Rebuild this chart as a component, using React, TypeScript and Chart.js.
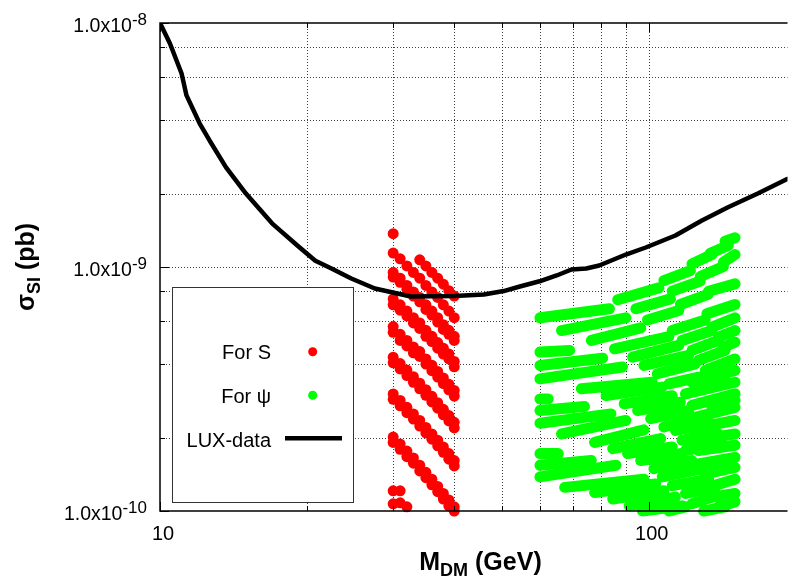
import React, { useEffect, useRef } from "react";
import { Chart, registerables } from "chart.js";
Chart.register(...registerables);

// ---------- axes ----------
const xMin = 10;
const xMax = 192.3;
const yMin = 1e-10;
const yMax = 1e-8;
const xGridValues = [20, 30, 40, 50, 60, 70, 80, 90, 100];
const yGridValues = [2e-10, 4e-10, 6e-10, 8e-10, 1e-9, 2e-9, 4e-9, 6e-9, 8e-9];
const xMajorTicks = [10, 100];
const xMajorLabels = ["10", "100"];
const yMajorTicks = [1e-10, 1e-9, 1e-8];
const yMajorMantissa = ["1.0x10", "1.0x10", "1.0x10"];
const yMajorExponent = ["-10", "-9", "-8"];
const xMinorTicks = [20, 30, 40, 50, 60, 70, 80, 90];
const yMinorTicks = [2e-10, 4e-10, 6e-10, 8e-10, 2e-9, 4e-9, 6e-9, 8e-9];
const legendLabels = ["For S", "For \u03C8", "LUX-data"];

// ---------- LUX limit ----------
const luxMass = [10, 10.48, 11.07, 11.33, 12.05, 12.63, 13.65, 14.99, 16.95, 19.23, 20.79, 22.43, 24.63, 27.52, 32.6, 40.0, 46.0, 50.5, 54.5, 59.8, 64.8, 69.5, 74.5, 79.2, 89.8, 98.6, 113.4, 128.5, 145.3, 167.2, 191.1, 200];
const luxSigma = [1.0e-8, 8.24e-9, 6.21e-9, 5.05e-9, 3.88e-9, 3.3e-9, 2.56e-9, 2.0e-9, 1.51e-9, 1.21e-9, 1.06e-9, 9.86e-10, 8.97e-10, 8.16e-10, 7.57e-10, 7.6e-10, 7.71e-10, 7.97e-10, 8.32e-10, 8.74e-10, 9.23e-10, 9.77e-10, 9.86e-10, 1.014e-9, 1.125e-9, 1.202e-9, 1.346e-9, 1.551e-9, 1.758e-9, 2.0e-9, 2.284e-9, 2.36e-9];

// ---------- scalar S (sigma in units of 1e-10 pb) ----------
const sigmaUnit = 1e-10;
const sMass = [30, 31, 32, 33, 34, 35, 36, 37, 38, 39, 40];
const sMassTail = [34, 35, 36, 37, 38, 39, 40];
const sStripeA = [11.4, 10.8, 10.1, 9.5, 9.0, 8.4, 7.9, 7.5, 7.0, 6.6, 6.2];
const sStripeA2 = [10.7, 10.1, 9.5, 9.0, 8.5, 8.0, 7.6];
const sStripeB = [9.5, 9.0, 8.4, 7.9, 7.5, 7.0, 6.6, 6.2, 5.8, 5.5, 5.2];
const sStripeB2 = [9.1, 8.65, 8.1, 7.6, 7.2, 6.7, 6.35, 5.95, 5.55, 5.3, 5.0];
const sStripeC = [7.4, 7.0, 6.6, 6.2, 5.9, 5.5, 5.2, 4.9, 4.65, 4.4, 4.1];
const sStripeC2 = [7.0, 6.65, 6.3, 5.9, 5.6, 5.2, 4.95, 4.65, 4.4, 4.2, 3.9];
const sStripeD = [5.7, 5.3, 5.0, 4.7, 4.5, 4.2, 3.96, 3.73, 3.51, 3.31, 3.12];
const sStripeD2 = [5.4, 5.0, 4.75, 4.45, 4.3, 4.0, 3.76, 3.54, 3.33, 3.14, 2.96];
const sStripeE = [4.27, 4.02, 3.78, 3.55, 3.34, 3.14, 2.95, 2.78, 2.61, 2.46, 2.31];
const sStripeE2 = [4.05, 3.82, 3.59, 3.37, 3.17, 2.98, 2.8, 2.64, 2.48, 2.34, 2.19];
const sStripeF = [3.02, 2.84, 2.66, 2.5, 2.35, 2.2, 2.07, 1.95, 1.83, 1.72, 1.61];
const sStripeF2 = [2.87, 2.7, 2.53, 2.38, 2.23, 2.09, 1.97, 1.85, 1.74, 1.63, 1.53];
const sStripeG = [2.01, 1.88, 1.76, 1.65, 1.54, 1.44, 1.35, 1.26, 1.18, 1.11, 1.04];
const sStripeG2 = [1.91, 1.79, 1.67, 1.57, 1.46, 1.37, 1.28, 1.2, 1.12, 1.05, 1.0];
const sExtraMass = [30, 30, 31, 30, 31, 32];
const sExtraSigma = [13.7, 1.21, 1.21, 1.07, 1.08, 1.04];

// ---------- fermion psi streaks: [M start, sigma start, M end, sigma end] (sigma in 1e-10 pb) ----------
const psiStreaks: [number, number, number, number][] = [
  [59.9, 6.19, 83.1, 6.74], [86.4, 7.34, 104.9, 8.21], [107.4, 8.8, 121.7, 9.67], [122.6, 10.3, 134.7, 11.25],
  [133.6, 11.39, 145.5, 12.25], [143.3, 12.76, 150.2, 13.17], [66.3, 5.49, 89.8, 6.19], [94.1, 6.74, 110.8, 7.4],
  [111.7, 7.96, 127.5, 8.75], [127.5, 9.14, 142.2, 10.05], [142.2, 10.47, 150.2, 11.25], [76.3, 5.0, 96.3, 5.63],
  [99.4, 6.07, 115.2, 6.63], [116.1, 7.02, 132.2, 7.72], [132.6, 7.96, 150.2, 8.53], [85.1, 4.62, 110.0, 5.19],
  [111.7, 5.49, 130.5, 6.07], [131.5, 6.43, 150.2, 7.02], [92.7, 4.27, 115.2, 4.77], [117.0, 5.0, 134.7, 5.49],
  [134.7, 5.67, 150.2, 6.19], [97.8, 3.95, 120.7, 4.34], [122.6, 4.55, 138.9, 5.0], [138.9, 5.16, 150.2, 5.49],
  [104.1, 3.65, 124.6, 4.01], [126.5, 4.14, 143.3, 4.55], [142.2, 4.69, 150.2, 4.92], [130.5, 3.77, 150.2, 4.2],
  [59.9, 4.48, 68.9, 4.55], [59.9, 3.95, 80.5, 4.23], [59.9, 3.48, 88.4, 3.89], [72.8, 3.17, 101.7, 3.37],
  [81.8, 2.97, 106.6, 3.22], [89.1, 2.75, 111.7, 2.97], [94.9, 2.58, 116.1, 2.79], [100.9, 2.39, 120.7, 2.58],
  [122.6, 3.37, 150.2, 3.77], [118.9, 3.02, 150.2, 3.37], [122.6, 2.71, 150.2, 3.02], [124.6, 2.42, 150.2, 2.66],
  [59.9, 2.88, 62.3, 2.88], [59.9, 2.58, 73.9, 2.68], [59.9, 2.29, 83.7, 2.5], [66.3, 2.07, 89.8, 2.35],
  [77.5, 1.91, 97.8, 2.15], [84.4, 1.8, 105.8, 1.98], [90.5, 1.72, 111.7, 1.83], [96.3, 1.61, 117.0, 1.72],
  [102.5, 1.49, 122.6, 1.61], [122.6, 2.17, 150.2, 2.35], [124.6, 1.95, 150.2, 2.07], [126.5, 1.77, 150.2, 1.86],
  [59.9, 1.72, 65.3, 1.72], [59.9, 1.54, 76.3, 1.61], [59.9, 1.38, 85.7, 1.54], [67.3, 1.25, 97.8, 1.35],
  [77.5, 1.19, 103.3, 1.29], [84.4, 1.12, 107.4, 1.21], [91.2, 1.05, 113.4, 1.14], [97.1, 1.0, 117.0, 1.05],
  [106.6, 1.38, 128.5, 1.49], [111.7, 1.27, 132.6, 1.35], [126.5, 1.56, 150.2, 1.66], [130.5, 1.42, 150.2, 1.51],
  [132.6, 1.25, 150.2, 1.35], [110.0, 1.0, 118.9, 1.04], [122.6, 1.07, 134.7, 1.14], [129.5, 1.0, 143.3, 1.04],
  [134.7, 1.14, 150.2, 1.18], [138.9, 1.04, 150.2, 1.09],
  [113.4, 2.14, 134.7, 2.28], [117.0, 1.95, 138.9, 2.07], [118.9, 1.77, 141.1, 1.89], [117.0, 1.47, 134.7, 1.56],
  [118.9, 1.18, 136.8, 1.25], [134.7, 2.66, 150.2, 2.84], [130.5, 3.22, 143.3, 3.43], [110.0, 3.32, 126.5, 3.54],
  [107.4, 2.21, 122.6, 2.39],
];

const RED = "#ff0000";
const GREEN = "#00ff00";
const FONT = '"Liberation Sans", Arial, Helvetica, sans-serif';

function pts(ms: number[], ss: number[]) {
  return ms.map((m, i) => ({ x: m, y: ss[i] * sigmaUnit }));
}

const framePlugin = {
  id: "gnuplotFrame",
  beforeDatasetsDraw(chart: any) {
    const { ctx, chartArea: a, scales } = chart;
    const x = scales.x;
    const y = scales.y;
    ctx.save();
    ctx.strokeStyle = "rgba(0,0,0,0.75)";
    ctx.lineWidth = 1;
    ctx.setLineDash([1, 2]);
    for (const v of xGridValues) {
      const px = Math.round(x.getPixelForValue(v)) + 0.5;
      ctx.beginPath();
      ctx.moveTo(px, a.top);
      ctx.lineTo(px, a.bottom);
      ctx.stroke();
    }
    for (const v of yGridValues) {
      const py = Math.round(y.getPixelForValue(v)) + 0.5;
      ctx.beginPath();
      ctx.moveTo(a.left, py);
      ctx.lineTo(a.right, py);
      ctx.stroke();
    }
    ctx.restore();
  },
  afterDatasetsDraw(chart: any) {
    const { ctx, chartArea: a, scales } = chart;
    const x = scales.x;
    const y = scales.y;
    ctx.save();
    // legend box
    ctx.fillStyle = "#fff";
    ctx.fillRect(172, 287, 182, 216);
    ctx.strokeStyle = "#333";
    ctx.lineWidth = 1;
    ctx.strokeRect(172.5, 287.5, 181, 215);
    ctx.fillStyle = "#000";
    ctx.font = `20px ${FONT}`;
    ctx.textAlign = "right";
    ctx.textBaseline = "alphabetic";
    ctx.fillText(legendLabels[0], 271, 359);
    ctx.fillText(legendLabels[1], 271, 402.5);
    ctx.fillText(legendLabels[2], 271, 446.5);
    ctx.fillStyle = RED;
    ctx.beginPath();
    ctx.arc(312.7, 351.7, 4.5, 0, Math.PI * 2);
    ctx.fill();
    ctx.fillStyle = GREEN;
    ctx.beginPath();
    ctx.arc(312.7, 395.3, 4.5, 0, Math.PI * 2);
    ctx.fill();
    ctx.strokeStyle = "#000";
    ctx.lineWidth = 4.5;
    ctx.beginPath();
    ctx.moveTo(285, 438.3);
    ctx.lineTo(342, 438.3);
    ctx.stroke();

    // border
    ctx.strokeStyle = "#000";
    ctx.lineWidth = 1.5;
    ctx.beginPath();
    ctx.moveTo(a.right, a.top);
    ctx.lineTo(a.left, a.top);
    ctx.lineTo(a.left, a.bottom);
    ctx.lineTo(a.right, a.bottom);
    ctx.stroke();

    // tick marks
    ctx.lineWidth = 1;
    const tick = (px: number, py: number, dx: number, dy: number) => {
      ctx.beginPath();
      ctx.moveTo(px, py);
      ctx.lineTo(px + dx, py + dy);
      ctx.stroke();
    };
    for (const v of xMajorTicks) {
      const px = Math.round(x.getPixelForValue(v)) + 0.5;
      tick(px, a.bottom, 0, -9);
      tick(px, a.top, 0, 9);
    }
    for (const v of xMinorTicks) {
      const px = Math.round(x.getPixelForValue(v)) + 0.5;
      tick(px, a.bottom, 0, -5);
      tick(px, a.top, 0, 5);
    }
    for (const v of yMajorTicks) {
      const py = Math.round(y.getPixelForValue(v)) + 0.5;
      tick(a.left, py, 9, 0);
    }
    for (const v of yMinorTicks) {
      const py = Math.round(y.getPixelForValue(v)) + 0.5;
      tick(a.left, py, 5, 0);
    }

    // x tick labels
    ctx.fillStyle = "#000";
    ctx.font = `20px ${FONT}`;
    ctx.textAlign = "center";
    xMajorTicks.forEach((v, i) => {
      ctx.fillText(xMajorLabels[i], x.getPixelForValue(v) + 3, 540);
    });

    // y tick labels with superscript
    yMajorTicks.forEach((v, i) => {
      const py = y.getPixelForValue(v);
      ctx.font = `17px ${FONT}`;
      const wSup = ctx.measureText(yMajorExponent[i]).width;
      ctx.textAlign = "left";
      ctx.fillText(yMajorExponent[i], 147 - wSup, py + 2);
      ctx.font = `19.5px ${FONT}`;
      ctx.textAlign = "right";
      ctx.fillText(yMajorMantissa[i], 147 - wSup, py + 9);
    });

    // x title
    ctx.textAlign = "left";
    const big = `bold 25px ${FONT}`;
    const small = `bold 18px ${FONT}`;
    ctx.font = big;
    const w1 = ctx.measureText("M").width;
    const w3 = ctx.measureText(" (GeV)").width;
    ctx.font = small;
    const w2 = ctx.measureText("DM").width;
    const sx = 480.5 - (w1 + w2 + w3) / 2;
    ctx.font = big;
    ctx.fillText("M", sx, 570);
    ctx.font = small;
    ctx.fillText("DM", sx + w1, 576);
    ctx.font = big;
    ctx.fillText(" (GeV)", sx + w1 + w2, 570);

    // y title
    ctx.save();
    ctx.translate(34, 267);
    ctx.rotate(-Math.PI / 2);
    ctx.font = big;
    const v1 = ctx.measureText("\u03C3").width;
    const v3 = ctx.measureText(" (pb)").width;
    ctx.font = small;
    const v2 = ctx.measureText("SI").width;
    const sy = -(v1 + v2 + v3) / 2;
    ctx.font = big;
    ctx.fillText("\u03C3", sy, 0);
    ctx.font = small;
    ctx.fillText("SI", sy + v1, 6);
    ctx.font = big;
    ctx.fillText(" (pb)", sy + v1 + v2, 0);
    ctx.restore();

    ctx.restore();
  },
};

export default function App() {
  const ref = useRef<HTMLCanvasElement>(null);
  useEffect(() => {
    document.body.style.margin = "0";
    const redPoints = [
      ...pts(sMass, sStripeA),
      ...pts(sMassTail, sStripeA2),
      ...pts(sMass, sStripeB),
      ...pts(sMass, sStripeB2),
      ...pts(sMass, sStripeC),
      ...pts(sMass, sStripeC2),
      ...pts(sMass, sStripeD),
      ...pts(sMass, sStripeD2),
      ...pts(sMass, sStripeE),
      ...pts(sMass, sStripeE2),
      ...pts(sMass, sStripeF),
      ...pts(sMass, sStripeF2),
      ...pts(sMass, sStripeG),
      ...pts(sMass, sStripeG2),
      ...pts(sExtraMass, sExtraSigma),
    ];
    const greenSets = psiStreaks.map((s) => ({
      type: "line" as const,
      data: [
        { x: s[0], y: s[1] * sigmaUnit },
        { x: s[2], y: s[3] * sigmaUnit },
      ],
      borderColor: GREEN,
      backgroundColor: GREEN,
      borderWidth: 11,
      borderCapStyle: "round" as const,
      pointRadius: 0,
      fill: false,
      order: 2,
      clip: false as any,
    }));
    const chart = new Chart(ref.current!, {
      type: "scatter",
      data: {
        datasets: [
          {
            type: "line",
            label: "LUX-data",
            data: luxMass.map((m, i) => ({ x: m, y: luxSigma[i] })),
            borderColor: "#000",
            borderWidth: 4.5,
            borderJoinStyle: "round",
            pointRadius: 0,
            fill: false,
            tension: 0,
            order: 0,
          } as any,
          {
            label: "For S",
            data: redPoints,
            backgroundColor: RED,
            borderWidth: 0,
            pointRadius: 5.5,
            order: 1,
            clip: false,
          } as any,
          ...(greenSets as any[]),
        ],
      },
      options: {
        animation: false,
        responsive: false,
        devicePixelRatio: 1,
        events: [],
        layout: { padding: { top: 23, left: 0, right: 0, bottom: 0 } },
        plugins: { legend: { display: false }, tooltip: { enabled: false } },
        scales: {
          x: {
            type: "logarithmic",
            min: xMin,
            max: xMax,
            grid: { display: false },
            border: { display: false },
            ticks: { display: false },
            afterFit: (s: any) => {
              s.height = 65;
            },
          },
          y: {
            type: "logarithmic",
            min: yMin,
            max: yMax,
            grid: { display: false },
            border: { display: false },
            ticks: { display: false },
            afterFit: (s: any) => {
              s.width = 160;
            },
          },
        },
      } as any,
      plugins: [framePlugin],
    });
    return () => chart.destroy();
  }, []);
  return (
    <canvas
      ref={ref}
      width={793}
      height={576}
      style={{ display: "block", width: 793, height: 576 }}
    />
  );
}
